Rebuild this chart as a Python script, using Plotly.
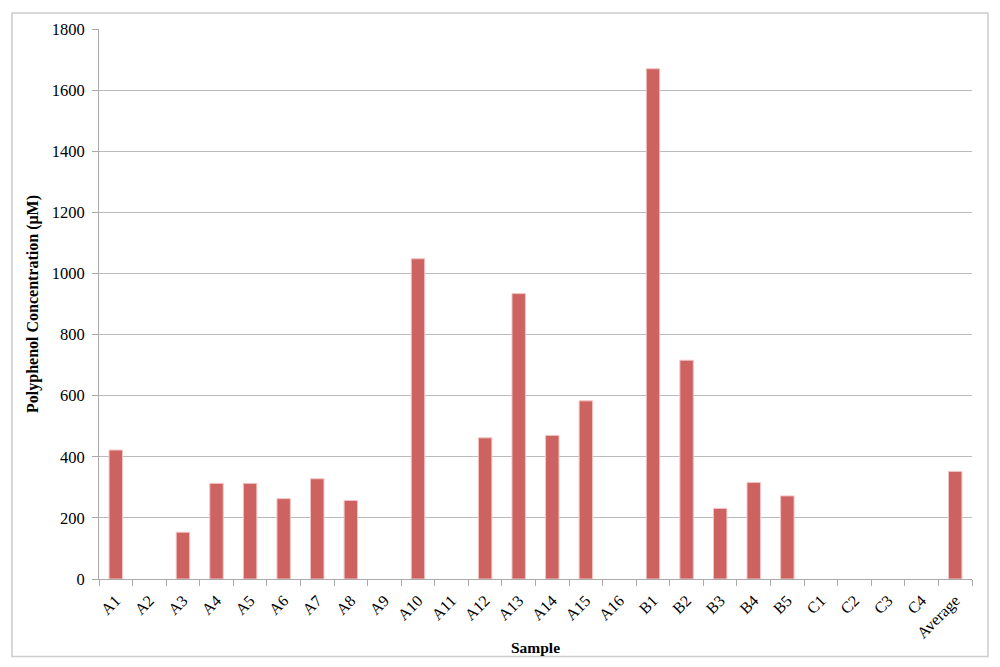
import plotly.graph_objs as go

samples = ['A1', 'A2', 'A3', 'A4', 'A5', 'A6', 'A7', 'A8', 'A9', 'A10', 'A11', 'A12',
           'A13', 'A14', 'A15', 'A16', 'B1', 'B2', 'B3', 'B4', 'B5', 'C1', 'C2', 'C3',
           'C4', 'Average']
concentration = [422, 0, 153, 313, 313, 263, 328, 257, 0, 1048, 0, 462,
                 934, 470, 583, 0, 1670, 716, 231, 316, 272, 0, 0, 0,
                 0, 352]
y_ticks = [0, 200, 400, 600, 800, 1000, 1200, 1400, 1600, 1800]

font_family = 'Liberation Serif, Times New Roman, serif'

# no outline on empty bars, so they don't draw a stray line at zero
edge_widths = [1 if v > 0 else 0 for v in concentration]

data = [
    go.Bar(
        x=samples,
        y=concentration,
        width=0.4,
        marker=dict(color='#CD6360', line=dict(color='#F2C4C2', width=edge_widths)),
        showlegend=False,
    )
]

layout = go.Layout(
    width=1000,
    height=667,
    autosize=False,
    font=dict(family=font_family, size=16, color='black'),
    plot_bgcolor='white',
    paper_bgcolor='white',
    margin=dict(l=91, r=36, t=18, b=96, pad=0),
    xaxis=dict(
        type='category',
        tickangle=-45,
        ticks='outside',
        tickson='boundaries',
        ticklen=6,
        tickcolor='#AAAAAA',
        ticklabelstandoff=5,
        showline=True,
        linecolor='#AAAAAA',
        linewidth=1,
        tickfont=dict(size=16),
        title=dict(text='<b>Sample</b>', font=dict(size=15.5), standoff=0),
    ),
    yaxis=dict(
        range=[0, 1800],
        tickvals=y_ticks,
        ticks='outside',
        ticklen=6,
        tickcolor='#AAAAAA',
        ticklabelstandoff=4,
        showline=True,
        linecolor='#AAAAAA',
        linewidth=1,
        showgrid=True,
        gridcolor='#BBBBBB',
        gridwidth=1,
        zeroline=False,
        tickfont=dict(size=16.5),
        title=dict(text='<b>Polyphenol Concentration (μM)</b>', font=dict(size=16), standoff=9),
    ),
    shapes=[
        dict(type='rect', xref='paper', yref='paper',
             x0=-0.0997, x1=1.0183, y0=-0.141, y1=1.029,
             line=dict(color='#CCCCCC', width=1.5))
    ],
)

fig = go.Figure(data=data, layout=layout)
fig.write_html("out.html")
